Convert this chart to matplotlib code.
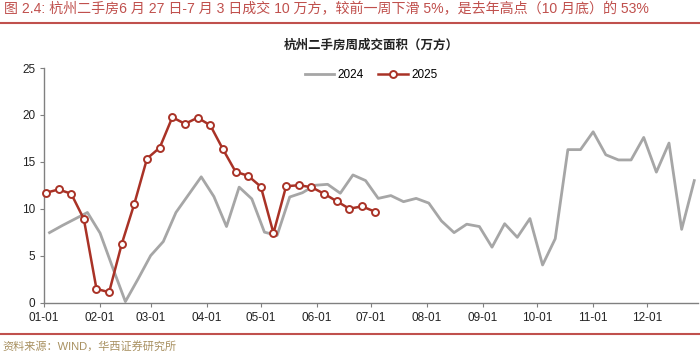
import matplotlib
matplotlib.use('Agg')
import matplotlib.pyplot as plt
import numpy as np

plt.rcParams['font.family'] = ['Liberation Sans', 'Noto Sans CJK SC']

# weekly data, day-of-year positions
days_2024 = np.arange(3, 3 + 7 * 52, 7)
vals_2024 = [7.45, 8.2, 8.9, 9.6, 7.4, 3.7, 0.1, 2.5, 5.0, 6.5,
             9.6, 11.5, 13.4, 11.3, 8.1, 12.3, 11.05, 7.5, 7.15, 11.25,
             11.7, 12.5, 12.6, 11.65, 13.6, 13.0, 11.1, 11.4, 10.75, 11.1,
             10.6, 8.7, 7.45, 8.35, 8.1, 5.9, 8.4, 6.95, 8.95, 4.0,
             6.8, 16.3, 16.3, 18.2, 15.75, 15.2, 15.2, 17.6, 13.9, 17.0,
             7.8, 13.0]
days_2025 = np.arange(1, 1 + 7 * 27, 7)
vals_2025 = [11.7, 12.05, 11.6, 8.9, 1.45, 1.1, 6.25, 10.55, 15.35, 16.5,
             19.75, 19.05, 19.7, 18.9, 16.35, 13.95, 13.5, 12.35, 7.4, 12.4,
             12.5, 12.3, 11.6, 10.8, 10.0, 10.25, 9.7]

month_days = [0, 31, 59, 90, 120, 151, 181, 212, 243, 273, 304, 334]
month_labels = ['01-01', '02-01', '03-01', '04-01', '05-01', '06-01',
                '07-01', '08-01', '09-01', '10-01', '11-01', '12-01']

red = '#c0504d'
line_red = '#a93226'
gray = '#a6a6a6'

fig = plt.figure(figsize=(7, 3.58), dpi=100)
ax = fig.add_axes([0.063, 0.155, 0.934, 0.655])

ax.plot(days_2024, vals_2024, color=gray, linewidth=2, label='2024')
ax.plot(days_2025, vals_2025, color=line_red, linewidth=1.8, marker='o',
        markersize=5, markerfacecolor='white', markeredgecolor=line_red,
        markeredgewidth=1.4, label='2025', clip_on=False, zorder=3)

ax.set_xlim(0, 362)
ax.set_ylim(0, 25)
ax.set_yticks([0, 5, 10, 15, 20, 25])
ax.set_xticks(month_days)
ax.set_xticklabels(month_labels)
for s in ['top', 'right']:
    ax.spines[s].set_visible(False)
for s in ['left', 'bottom']:
    ax.spines[s].set_color('#808080')
    ax.spines[s].set_linewidth(1)
ax.tick_params(axis='both', direction='out', length=3, color='#808080',
               labelsize=8.5, labelcolor='#222222')

ax.legend(loc='upper center', bbox_to_anchor=(0.5, 1.04), ncol=2, frameon=False,
          fontsize=8.5, handlelength=2.5, columnspacing=1.2, handletextpad=0.3)

ax.text(0.5, 1.095, '杭州二手房周成交面积（万方）', transform=ax.transAxes,
        ha='center', va='center', fontsize=9, fontweight='bold', color='#222222')

fig.text(0.006, 0.975, '图 2.4: 杭州二手房6 月 27 日-7 月 3 日成交 10 万方，较前一周下滑 5%，是去年高点（10 月底）的 53%',
         ha='left', va='center', fontsize=10.1, color=red)
fig.add_artist(plt.Line2D([0, 1], [0.935, 0.935], color=red, linewidth=1.5,
                          transform=fig.transFigure))
fig.add_artist(plt.Line2D([0, 1], [0.067, 0.067], color=red, linewidth=1.5,
                          transform=fig.transFigure))
fig.text(0.003, 0.032, '资料来源：WIND，华西证券研究所', ha='left', va='center',
         fontsize=8, color='#a89060')

fig.savefig('out.png', dpi=100)
